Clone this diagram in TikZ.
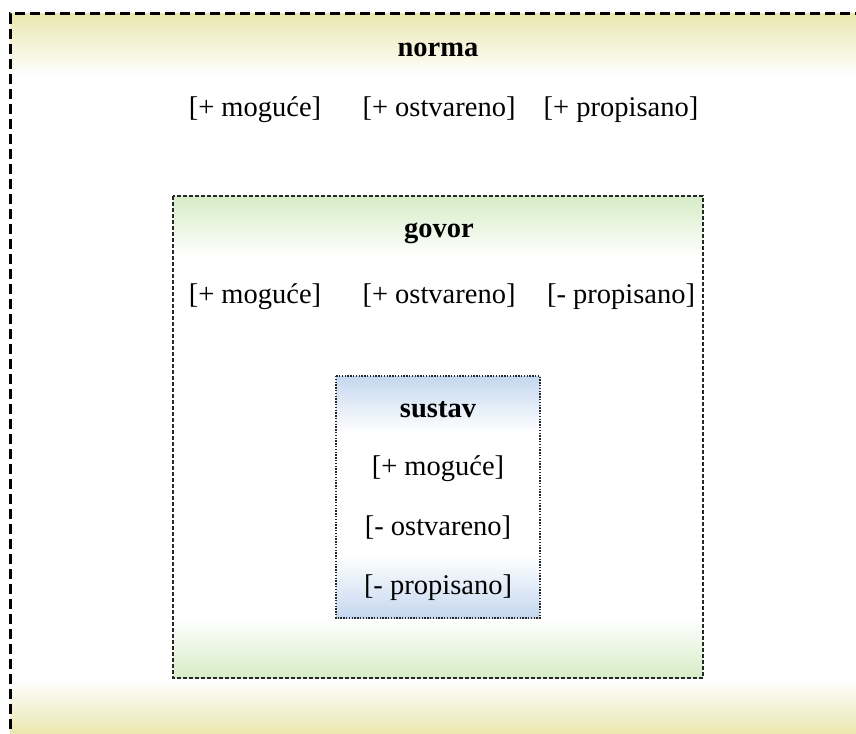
\documentclass[tikz,border=0pt]{standalone}
\usepackage{fontspec}
\setmainfont{Liberation Serif}
\definecolor{normaY}{RGB}{234,231,176}
\definecolor{govorG}{RGB}{214,236,198}
\definecolor{sustavB}{RGB}{196,215,239}
\definecolor{frameK}{RGB}{40,40,40}
\tikzset{
  lbl/.style={inner sep=0pt, anchor=base, font=\fontsize{28.5}{32}\selectfont},
  ttl/.style={lbl, font=\fontsize{28.5}{32}\selectfont\bfseries},
}
\begin{document}
\begin{tikzpicture}[x=1pt,y=-1pt]
\useasboundingbox (0,0) rectangle (856,733);
\clip (0,0) rectangle (856,733);

% outer frame: norma
\fill[white] (10,14) rectangle (880,760);
\shade[top color=normaY, bottom color=white] (10,14) rectangle (880,76);
\shade[top color=white, bottom color=normaY] (10,680) rectangle (880,733);
\draw[line width=3pt, dash pattern=on 10pt off 5pt] (880,14) -- (10,14) -- (10,760);

% middle frame: govor
\fill[white] (173,196) rectangle (703,678);
\shade[top color=govorG, bottom color=white] (173,196) rectangle (703,256);
\shade[top color=white, bottom color=govorG] (173,618) rectangle (703,678);
\draw[frameK, line width=1.1pt, dash pattern=on 4pt off 2pt] (173,196) rectangle (703,678);

% inner frame: sustav
\fill[white] (336,376) rectangle (540,618);
\shade[top color=sustavB, bottom color=white] (336,376) rectangle (540,432);
\shade[top color=white, bottom color=sustavB] (336,556) rectangle (540,618);
\draw[frameK, line width=1.3pt, dash pattern=on 1.4pt off 1.4pt] (336,376) rectangle (540,618);

% labels (placed by baseline)
\node[ttl] (norma) at (438,57) {norma};
\node[lbl] (n1) at (255,117) {[+ moguće]};
\node[lbl] (n2) at (439,117) {[+ ostvareno]};
\node[lbl] (n3) at (621,117) {[+ propisano]};

\node[ttl] (govor) at (439,237) {govor};
\node[lbl] (g1) at (255,303) {[+ moguće]};
\node[lbl] (g2) at (439,303) {[+ ostvareno]};
\node[lbl] (g3) at (621,303) {[- propisano]};

\node[ttl] (sustav) at (438,417) {sustav};
\node[lbl] (s1) at (438,475) {[+ moguće]};
\node[lbl] (s2) at (438,535) {[- ostvareno]};
\node[lbl] (s3) at (438,594) {[- propisano]};
\end{tikzpicture}
\end{document}
